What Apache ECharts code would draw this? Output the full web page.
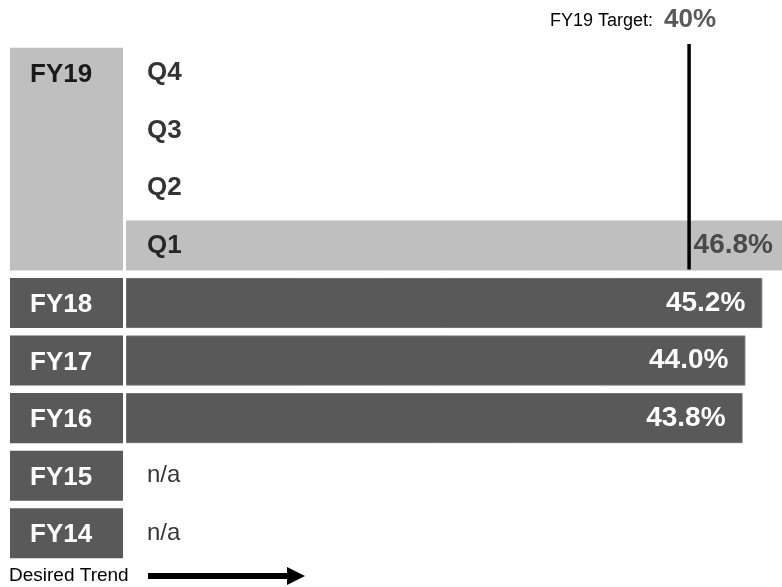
<!DOCTYPE html>
<html><head><meta charset="utf-8">
<script src="https://cdn.jsdelivr.net/npm/echarts@6/dist/echarts.min.js"></script>
<style>html,body{margin:0;padding:0;background:#fff}#c{width:782px;height:587px}</style>
</head><body><div id="c"></div>
<script>
// ---- data ----
const rows = ['Q4','Q3','Q2','Q1','FY18','FY17','FY16','FY15','FY14'];
const values = [null,null,null,46.8,45.2,44.0,43.8,null,null];
const rowLabels = ['Q4','Q3','Q2','Q1','','','','n/a','n/a'];
const yearGroups = ['FY19','FY18','FY17','FY16','FY15','FY14'];
const yearStart = ['Q4','FY18','FY17','FY16','FY15','FY14'];
const yearEnd = ['Q1','FY18','FY17','FY16','FY15','FY14'];
const target = 40;
const targetLabel = 'FY19 Target:';
const currentRow = 'Q1';
const trendLabel = 'Desired Trend';

// ---- styling ----
const DARK = '#595959', LIGHT = '#bfbfbf';
const FONT = '"Liberation Sans", Arial, sans-serif';
const BAR_FRAC = 0.87;

const chart = echarts.init(document.getElementById('c'), null, {renderer: 'canvas'});

const gridTop = 44, gridH = 518;

const barData = values.map((v, i) => {
  const cur = rows[i] === currentRow;
  return {
    value: v,
    itemStyle: {color: cur ? LIGHT : DARK, borderColor: cur ? LIGHT : '#707070', borderWidth: cur ? 0 : 1},
    label: {color: cur ? '#4a4a4a' : '#ffffff', distance: cur ? 9 : 17}
  };
});

const labelData = rows.map((r, i) => rowLabels[i] ? {
  value: [0, i],
  label: {fontWeight: rowLabels[i] === 'n/a' ? 'normal' : 'bold', fontSize: rowLabels[i] === 'n/a' ? 24 : 26}
} : null).filter(d => d);

const option = {
  backgroundColor: '#fff',
  animation: false,
  grid: [
    {left: 126, right: 0, top: gridTop, height: gridH, outerBoundsMode: 'none'},
    {left: 10, width: 113, top: gridTop, height: gridH, outerBoundsMode: 'none'}
  ],
  xAxis: [
    {gridIndex: 0, type: 'value', min: 0, max: 46.6, show: false},
    {gridIndex: 1, type: 'value', min: 0, max: 1, show: false}
  ],
  yAxis: [
    {gridIndex: 0, type: 'category', data: rows, inverse: true, show: false},
    {gridIndex: 1, type: 'category', data: rows, inverse: true, show: false}
  ],
  series: [
    {
      type: 'bar', xAxisIndex: 0, yAxisIndex: 0, z: 2,
      data: barData, barWidth: '87%',
      label: {show: true, position: 'insideRight', fontFamily: FONT, fontWeight: 'bold', fontSize: 28,
        formatter: p => p.value.toFixed(1) + '%'}
    },
    {
      type: 'scatter', xAxisIndex: 0, yAxisIndex: 0, symbolSize: 0, z: 3,
      data: labelData,
      label: {show: true, position: 'right', distance: 21, color: '#000', fontFamily: FONT,
        formatter: p => rowLabels[p.value[1]]}
    },
    {
      type: 'custom', xAxisIndex: 0, yAxisIndex: 0, z: 10,
      data: [[target, rows.indexOf(currentRow)]],
      renderItem: (params, api) => {
        const x = api.coord([api.value(0), 0])[0];
        const band = api.size([0, 1])[1];
        const bottom = api.coord([0, api.value(1)])[1] + band * BAR_FRAC / 2 - 1;
        const top = params.coordSys.y;
        return {
          type: 'group',
          children: [
            {type: 'line', shape: {x1: x, y1: top, x2: x, y2: bottom}, style: {stroke: '#000', lineWidth: 3.5}},
            {type: 'text', style: {text: api.value(0) + '%', x: x + 1, y: 20, align: 'center', verticalAlign: 'middle',
              font: 'bold 26px ' + FONT, fill: DARK}},
            {type: 'text', style: {text: targetLabel, x: x - 36, y: 21, align: 'right', verticalAlign: 'middle',
              font: '18px ' + FONT, fill: '#000'}}
          ]
        };
      }
    },
    {
      type: 'custom', xAxisIndex: 1, yAxisIndex: 1,
      data: yearGroups.map((g, i) => [0, rows.indexOf(yearStart[i]), rows.indexOf(yearEnd[i])]),
      renderItem: (params, api) => {
        const i = params.dataIndex;
        const band = api.size([0, 1])[1];
        const half = band * BAR_FRAC / 2;
        const p0 = api.coord([0, api.value(1)]);
        const p1 = api.coord([1, api.value(2)]);
        const first = yearGroups[i] === 'FY19';
        return {
          type: 'group',
          children: [
            {type: 'rect', shape: {x: p0[0], y: p0[1] - half, width: p1[0] - p0[0], height: p1[1] + half - (p0[1] - half)},
              style: {fill: first ? LIGHT : DARK}},
            {type: 'text', style: {text: yearGroups[i], x: p0[0] + 20, y: p0[1] + 2, align: 'left', verticalAlign: 'middle',
              font: 'bold 26px ' + FONT, fill: first ? '#1a1a1a' : '#ffffff'}}
          ]
        };
      }
    }
  ],
  graphic: [
    {type: 'text', left: 9, top: 566, style: {text: trendLabel, font: '19px ' + FONT, fill: '#000'}},
    {type: 'line', shape: {x1: 148, y1: 576, x2: 290, y2: 576}, style: {stroke: '#000', lineWidth: 6}},
    {type: 'polygon', shape: {points: [[287, 567], [305, 576], [287, 585]]}, style: {fill: '#000'}}
  ]
};
chart.setOption(option);
</script>
</body></html>
